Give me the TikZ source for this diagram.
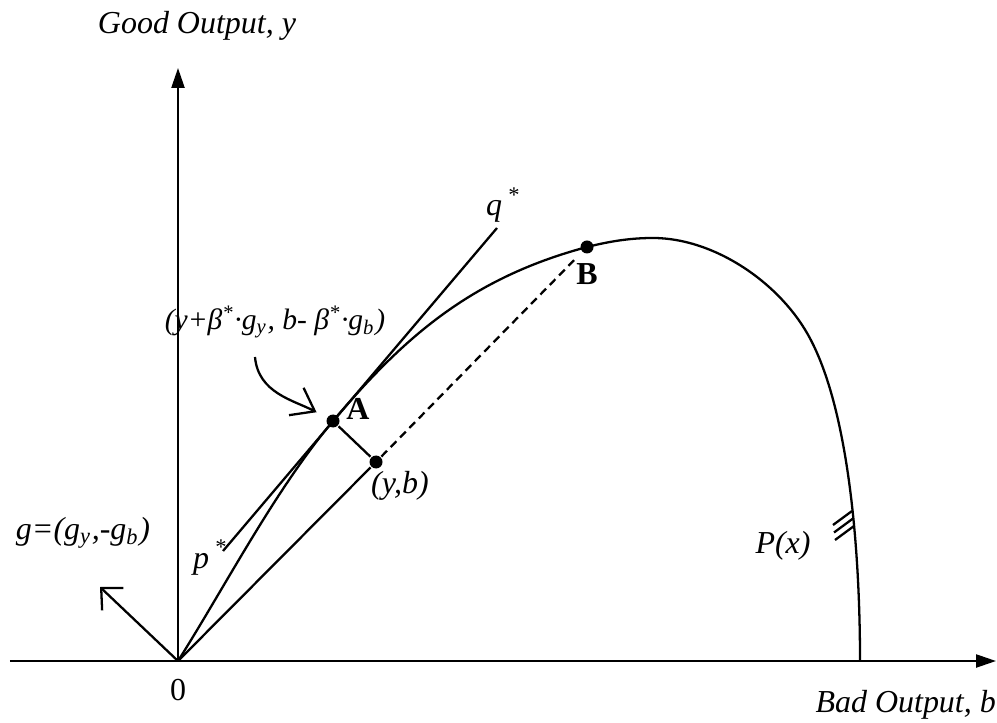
\documentclass[tikz,border=0pt]{standalone}
\usepackage{fontspec}
\setmainfont{Liberation Serif}
\usetikzlibrary{arrows.meta,positioning,calc}
\newcommand{\lblfont}{\fontsize{9.1}{11}\selectfont}
\tikzset{
  pt/.style={circle,fill,inner sep=0pt,minimum size=0.13cm},
  ptname/.style={font=\lblfont\bfseries\upshape,inner sep=0pt},
  axisarrow/.style={-{Triangle[length=0.2cm,width=0.13cm]}},
  openarrow/.style={-{Straight Barb[length=0.16cm,width=0.31cm]}},
  pointer/.style={-{Straight Barb[length=0.21cm,width=0.31cm]},shorten >=0.11cm},
}

\begin{document}
\begin{tikzpicture}[line width=0.65pt,font=\lblfont\itshape]
  \useasboundingbox (-1.78,-0.61) rectangle (8.19,6.61);

  % Axes
  \coordinate (O) at (0,0);
  \coordinate (xl) at (-1.68,0);
  \coordinate (xr) at (8.18,0);
  \coordinate (yt) at (0,5.93);
  \draw[axisarrow] (xl) -- (xr);
  \draw[axisarrow] (O) -- (yt);
  \node (ylab) at (0.19,6.35) {Good Output, y};
  \node[anchor=east,inner sep=0pt] (xlab) at (8.19,-0.44) {Bad Output, b};
  \node[font=\lblfont\upshape] (zero) at (0,-0.29) {0};

  % Points
  \node[pt] (A) at (1.55,2.40) {};
  \node[pt] (B) at (4.09,4.14) {};
  \node[pt] (yb) at (1.98,1.99) {};
  \node[ptname] (Alab) at (1.80,2.52) {A};
  \node[ptname,below=0.08cm of B] (Blab) {B};
  \node (yblab) at (2.22,1.75) {(y,b)};

  % Frontier P(x)
  \draw (O) .. controls (0.48,0.76) and (0.97,1.71) .. (A.center)
    .. controls (2.26,3.24) and (2.93,3.83) .. (B.center)
    .. controls (4.33,4.20) and (4.53,4.23) .. (4.75,4.23)
    .. controls (5.35,4.23) and (5.99,3.80) .. (6.29,3.28)
    .. controls (6.69,2.59) and (6.82,1.20) .. (6.82,0);
  \foreach \x/\y in {6.74/1.50,6.75/1.425,6.76/1.35}
    \draw (\x,\y) -- ++(-0.19,-0.14);
  \node (Plab) at (6.05,1.15) {P(x)};

  % Supporting line p*q*
  \coordinate (pend) at (0.45,1.10);
  \coordinate (qend) at (3.19,4.33);
  \draw (pend) -- (qend);
  \node[anchor=base west,inner sep=0pt] (plab) at (0.14,0.93) {p\,\textsuperscript{*}};
  \node[anchor=base west,inner sep=0pt] (qlab) at (3.07,4.45) {q\,\textsuperscript{*}};

  % Direction vector and projection
  \draw (O) -- (yb);
  \draw (A) -- (yb);
  \draw[dash pattern=on 2.3pt off 1.5pt,shorten >=0.08cm] (yb) -- (B);
  \coordinate (gtip) at (-0.78,0.74);
  \draw[openarrow] (O) -- (gtip);
  \node (glab) at (-0.95,1.28) {g=(g\textsubscript{y},-g\textsubscript{b})};

  % Projected point
  \node[font=\fontsize{8.4}{10}\selectfont\itshape] (Aform) at (0.97,3.39)
    {(y+β\textsuperscript{*}·g\textsubscript{y}, b- β\textsuperscript{*}·g\textsubscript{b})};
  \coordinate (cstart) at (0.77,3.04);
  \draw[pointer] (cstart) to[out=-85,in=152] (A);
\end{tikzpicture}
\end{document}
